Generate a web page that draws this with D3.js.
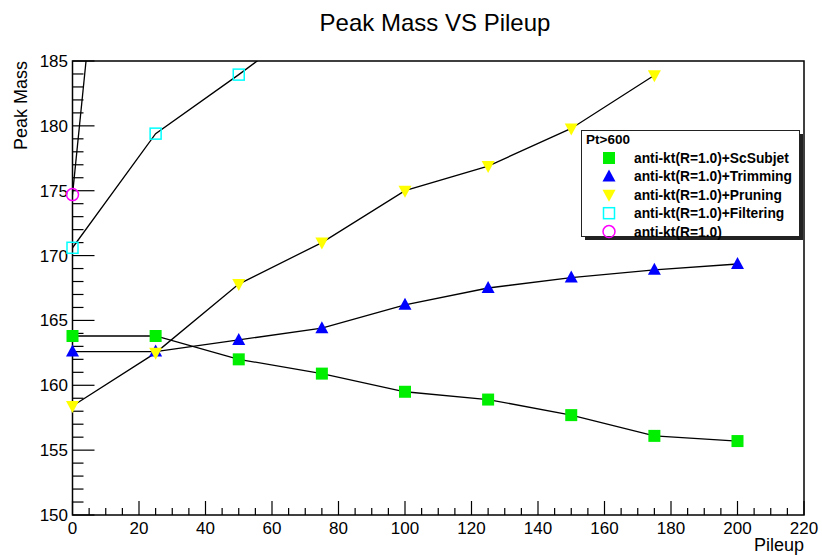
<!DOCTYPE html>
<html>
<head>
<meta charset="utf-8">
<script src="https://d3js.org/d3.v7.min.js"></script>
<style>
  body { margin: 0; background: #fff; }
  text { font-family: "Liberation Sans", Arial, sans-serif; }
</style>
</head>
<body>
<svg id="chart" width="822" height="555"></svg>
<script>
// pileup values
const pileup = [0, 25, 50, 75, 100, 125, 150, 175, 200];

// peak mass for each method
const scSubjet  = [163.8, 163.8, 162.0, 160.9, 159.5, 158.9, 157.7, 156.1, 155.7];
const trimming  = [162.6, 162.6, 163.5, 164.4, 166.2, 167.5, 168.3, 168.9, 169.35];
const pruning   = [158.4, 162.5, 167.8, 171.0, 175.0, 176.9, 179.8, 183.9];
const filtering = [170.6, 179.4, 183.95, 188.7];
const plain     = [174.7, 238.0];

const seriesNames = [
  "anti-kt(R=1.0)+ScSubjet",
  "anti-kt(R=1.0)+Trimming",
  "anti-kt(R=1.0)+Pruning",
  "anti-kt(R=1.0)+Filtering",
  "anti-kt(R=1.0)"
];

const svg = d3.select("#chart");
const margin = {left: 72.5, right: 18, top: 61, bottom: 40};
const width = 822, height = 555;

const x = d3.scaleLinear().domain([0, 220]).range([margin.left, width - margin.right]);
const y = d3.scaleLinear().domain([150, 185]).range([height - margin.bottom, margin.top]);

// title
svg.append("text")
  .attr("x", 435).attr("y", 31)
  .attr("text-anchor", "middle")
  .style("font-size", "24px")
  .text("Peak Mass VS Pileup");

// clip for the plot frame
svg.append("clipPath").attr("id", "clip")
  .append("rect")
  .attr("x", x(0)).attr("y", y(185))
  .attr("width", x(220) - x(0)).attr("height", y(150) - y(185));

// frame
svg.append("rect")
  .attr("x", x(0)).attr("y", y(185))
  .attr("width", x(220) - x(0)).attr("height", y(150) - y(185))
  .attr("fill", "none").attr("stroke", "#000").attr("stroke-width", 1.5);

// x ticks
const xt = svg.append("g");
d3.range(0, 221, 5).forEach(v => {
  const major = v % 20 === 0;
  xt.append("line")
    .attr("x1", x(v)).attr("x2", x(v))
    .attr("y1", y(150)).attr("y2", y(150) - (major ? 14 : 7))
    .attr("stroke", "#000").attr("stroke-width", 1.2);
});
x.ticks(11).forEach(v => {
  xt.append("text")
    .attr("x", x(v)).attr("y", y(150) + 18.5)
    .attr("text-anchor", "middle")
    .style("font-size", "17px")
    .text(v);
});

// y ticks
const yt = svg.append("g");
d3.range(150, 186, 1).forEach(v => {
  const major = v % 5 === 0;
  yt.append("line")
    .attr("x1", x(0)).attr("x2", x(0) + (major ? 22 : 11))
    .attr("y1", y(v)).attr("y2", y(v))
    .attr("stroke", "#000").attr("stroke-width", 1.2);
});
y.ticks(7).forEach(v => {
  yt.append("text")
    .attr("x", x(0) - 4.5).attr("y", y(v) + 6)
    .attr("text-anchor", "end")
    .style("font-size", "17px")
    .text(v);
});

// axis titles
svg.append("text")
  .attr("x", x(220)).attr("y", 551)
  .attr("text-anchor", "end")
  .style("font-size", "18px")
  .text("Pileup");

svg.append("text")
  .attr("transform", `translate(27,${margin.top}) rotate(-90)`)
  .attr("text-anchor", "end")
  .style("font-size", "18px")
  .text("Peak Mass");

// series
const series = [
  {vals: scSubjet,  marker: "sqf", color: "#00ee00"},
  {vals: trimming,  marker: "tri", color: "#0000ff"},
  {vals: pruning,   marker: "tridown", color: "#ffff00"},
  {vals: filtering, marker: "sqo", color: "#00ffff"},
  {vals: plain,     marker: "circ", color: "#ff00ff"}
];

const line = d3.line().x(d => x(d[0])).y(d => y(d[1]));
const plot = svg.append("g").attr("clip-path", "url(#clip)");

function drawMarker(g, type, color, cx, cy) {
  if (type === "sqf") {
    g.append("rect").attr("x", cx - 6).attr("y", cy - 6).attr("width", 12).attr("height", 12).attr("fill", color);
  } else if (type === "sqo") {
    g.append("rect").attr("x", cx - 5.5).attr("y", cy - 5.5).attr("width", 11).attr("height", 11)
      .attr("fill", "none").attr("stroke", color).attr("stroke-width", 1.5);
  } else if (type === "tri") {
    g.append("path").attr("d", `M${cx},${cy - 7}L${cx + 6.5},${cy + 5}L${cx - 6.5},${cy + 5}Z`).attr("fill", color);
  } else if (type === "tridown") {
    g.append("path").attr("d", `M${cx},${cy + 7}L${cx + 6.5},${cy - 5}L${cx - 6.5},${cy - 5}Z`).attr("fill", color);
  } else {
    g.append("circle").attr("cx", cx).attr("cy", cy).attr("r", 6)
      .attr("fill", "none").attr("stroke", color).attr("stroke-width", 1.5);
  }
}

series.forEach(s => {
  const pts = s.vals.map((v, i) => [pileup[i], v]);
  plot.append("path").datum(pts)
    .attr("d", line)
    .attr("fill", "none").attr("stroke", "#000").attr("stroke-width", 1.3);
});
series.forEach(s => {
  s.vals.forEach((v, i) => {
    if (v <= 185) drawMarker(svg, s.marker, s.color, x(pileup[i]), y(v));
  });
});

// legend
const lg = svg.append("g");
lg.append("rect").attr("x", 585).attr("y", 134).attr("width", 218).attr("height", 106).attr("fill", "#222");
lg.append("rect").attr("x", 581.5).attr("y", 130.5).attr("width", 218).attr("height", 106)
  .attr("fill", "#fff").attr("stroke", "#222").attr("stroke-width", 1);
lg.append("text").attr("x", 586).attr("y", 143.5)
  .style("font-size", "13.5px").style("font-weight", "bold")
  .text("Pt>600");
series.forEach((s, i) => {
  const cy = 158 + i * 18.4;
  drawMarker(lg, s.marker, s.color, 609, cy);
  lg.append("text").attr("x", 634).attr("y", cy + 5)
    .style("font-size", "13.8px").style("font-weight", "bold")
    .text(seriesNames[i]);
});
</script>
</body>
</html>
